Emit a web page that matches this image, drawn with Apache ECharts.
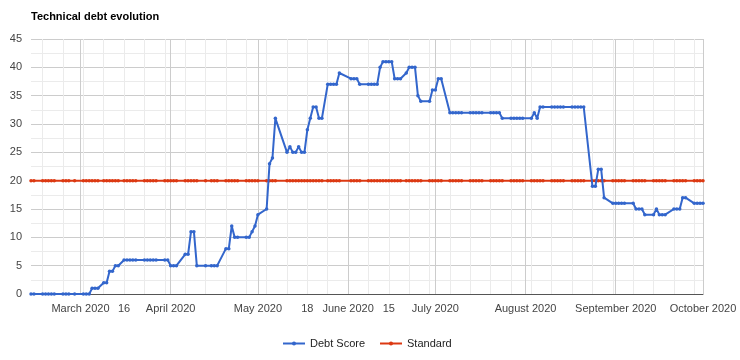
<!DOCTYPE html>
<html>
<head>
<meta charset="utf-8">
<script src="https://cdn.jsdelivr.net/npm/echarts@6/dist/echarts.min.js"></script>
<style>
html,body{margin:0;padding:0;background:#fff;}
#chart{width:740px;height:360px;}
</style>
</head>
<body>
<div id="chart"></div>
<script>
const title = 'Technical debt evolution';
const seriesNames = ['Debt Score', 'Standard'];

const dates = [
'2020-02-13','2020-02-14','2020-02-17','2020-02-18','2020-02-19','2020-02-20','2020-02-21','2020-02-24','2020-02-25','2020-02-26','2020-02-28',
'2020-03-02','2020-03-03','2020-03-04','2020-03-05','2020-03-06','2020-03-07','2020-03-09','2020-03-10','2020-03-11','2020-03-12','2020-03-13','2020-03-14','2020-03-16','2020-03-17','2020-03-18','2020-03-19','2020-03-20','2020-03-23','2020-03-24','2020-03-25','2020-03-26','2020-03-27','2020-03-30','2020-03-31',
'2020-04-01','2020-04-02','2020-04-03','2020-04-06','2020-04-07','2020-04-08','2020-04-09','2020-04-10','2020-04-13','2020-04-15','2020-04-16','2020-04-17','2020-04-20','2020-04-21','2020-04-22','2020-04-23','2020-04-24','2020-04-27','2020-04-28','2020-04-29','2020-04-30',
'2020-05-01','2020-05-04','2020-05-05','2020-05-06','2020-05-07','2020-05-11','2020-05-12','2020-05-13','2020-05-14','2020-05-15','2020-05-16','2020-05-17','2020-05-18','2020-05-19','2020-05-20','2020-05-21','2020-05-22','2020-05-23','2020-05-25','2020-05-26','2020-05-27','2020-05-28','2020-05-29',
'2020-06-02','2020-06-03','2020-06-04','2020-06-05','2020-06-08','2020-06-09','2020-06-10','2020-06-11','2020-06-12','2020-06-13','2020-06-14','2020-06-15','2020-06-16','2020-06-17','2020-06-18','2020-06-19','2020-06-21','2020-06-22','2020-06-23','2020-06-24','2020-06-25','2020-06-26','2020-06-29','2020-06-30',
'2020-07-01','2020-07-02','2020-07-03','2020-07-06','2020-07-07','2020-07-08','2020-07-09','2020-07-10','2020-07-13','2020-07-14','2020-07-15','2020-07-16','2020-07-17','2020-07-20','2020-07-21','2020-07-22','2020-07-23','2020-07-24','2020-07-27','2020-07-28','2020-07-29','2020-07-30','2020-07-31',
'2020-08-03','2020-08-04','2020-08-05','2020-08-06','2020-08-07','2020-08-10','2020-08-11','2020-08-12','2020-08-13','2020-08-14','2020-08-17','2020-08-18','2020-08-19','2020-08-20','2020-08-21','2020-08-24','2020-08-25','2020-08-26','2020-08-27','2020-08-28','2020-08-31',
'2020-09-01','2020-09-02','2020-09-03','2020-09-04','2020-09-07','2020-09-08','2020-09-09','2020-09-10','2020-09-11','2020-09-14','2020-09-15','2020-09-16','2020-09-17','2020-09-18','2020-09-21','2020-09-22','2020-09-23','2020-09-24','2020-09-25','2020-09-28','2020-09-29','2020-09-30','2020-10-01'
];

const debtScore = [
0,0,0,0,0,0,0,0,0,0,0,
0,0,0,1,1,1,2,2,4,4,5,5,6,6,6,6,6,6,6,6,6,6,6,6,
5,5,5,7,7,11,11,5,5,5,5,5,8,8,12,10,10,10,10,11,12,
14,15,23,24,31,25,26,25,25,26,25,25,29,31,33,33,31,31,37,37,37,37,39,
38,38,38,37,37,37,37,37,40,41,41,41,41,38,38,38,39,40,40,40,35,34,34,36,
36,38,38,32,32,32,32,32,32,32,32,32,32,32,32,32,32,31,31,31,31,31,31,
31,32,31,33,33,33,33,33,33,33,33,33,33,33,33,19,19,22,22,17,16,
16,16,16,16,16,15,15,15,14,14,15,14,14,14,15,15,15,17,17,16,16,16,16
];

const standardScore = [
20,20,20,20,20,20,20,20,20,20,20,
20,20,20,20,20,20,20,20,20,20,20,20,20,20,20,20,20,20,20,20,20,20,20,20,
20,20,20,20,20,20,20,20,20,20,20,20,20,20,20,20,20,20,20,20,20,
20,20,20,20,20,20,20,20,20,20,20,20,20,20,20,20,20,20,20,20,20,20,20,
20,20,20,20,20,20,20,20,20,20,20,20,20,20,20,20,20,20,20,20,20,20,20,20,
20,20,20,20,20,20,20,20,20,20,20,20,20,20,20,20,20,20,20,20,20,20,20,
20,20,20,20,20,20,20,20,20,20,20,20,20,20,20,20,20,20,20,20,20,
20,20,20,20,20,20,20,20,20,20,20,20,20,20,20,20,20,20,20,20,20,20,20
];

const xMin = '2020-02-13';
const xMax = '2020-10-01';
const monthStarts = ['2020-03-01','2020-04-01','2020-05-01','2020-06-01','2020-07-01','2020-08-01','2020-09-01','2020-10-01'];
const xTickDates = ['2020-03-01','2020-03-16','2020-04-01','2020-05-01','2020-05-18','2020-06-01','2020-06-15','2020-07-01','2020-08-01','2020-09-01','2020-10-01'];
const xTickLabels = ['March 2020','16','April 2020','May 2020','18','June 2020','15','July 2020','August 2020','September 2020','October 2020'];

const toTs = s => { const p = s.split('-'); return Date.UTC(+p[0], +p[1]-1, +p[2]); };

// weekly (Monday) minor grid lines
const mondays = [];
for (let t = toTs('2020-02-17'); t <= toTs(xMax); t += 7 * 86400000) mondays.push(t);

const labelMap = {};
xTickDates.forEach((d, i) => { labelMap[toTs(d)] = xTickLabels[i]; });

const FONT = 'Arial, "Liberation Sans", sans-serif';
const chart = echarts.init(document.getElementById('chart'), null, {renderer: 'canvas'});
chart.setOption({
  animation: false,
  backgroundColor: '#fff',
  textStyle: {fontFamily: FONT},
  title: {
    text: title, left: 31, top: 11, padding: 0,
    textStyle: {fontFamily: FONT, fontSize: 11, fontWeight: 'bold', color: '#000'}
  },
  legend: {
    bottom: 6, left: 277,
    itemWidth: 22, itemHeight: 5, itemGap: 14,
    textStyle: {fontFamily: FONT, fontSize: 11, color: '#222'},
    data: seriesNames
  },
  grid: {left: 31, right: 37, top: 39, bottom: 66, containLabel: false},
  xAxis: [
    {
      type: 'value', position: 'top', min: toTs(xMin), max: toTs(xMax),
      axisLine: {show: false}, axisLabel: {show: false},
      axisTick: {show: false, customValues: mondays},
      splitLine: {show: true, lineStyle: {color: '#ebebeb', width: 1}}
    },
    {
      type: 'value', position: 'bottom', min: toTs(xMin), max: toTs(xMax),
      axisLine: {show: true, onZero: false, lineStyle: {color: '#555', width: 1}},
      axisTick: {show: false, customValues: monthStarts.map(toTs)},
      axisLabel: {
        customValues: xTickDates.map(toTs), margin: 9, interval: 0, hideOverlap: false,
        showMinLabel: true, showMaxLabel: true,
        fontFamily: FONT, fontSize: 11, color: '#444',
        formatter: v => labelMap[v] !== undefined ? labelMap[v] : ''
      },
      splitLine: {show: true, lineStyle: {color: '#cccccc', width: 1}}
    }
  ],
  yAxis: {
    type: 'value', min: 0, max: 45, interval: 5,
    axisLine: {show: false}, axisTick: {show: false},
    axisLabel: {margin: 9, fontFamily: FONT, fontSize: 11, color: '#444'},
    splitLine: {lineStyle: {color: '#cccccc'}},
    minorTick: {show: false, splitNumber: 2},
    minorSplitLine: {show: true, lineStyle: {color: '#ebebeb'}}
  },
  series: [
    {
      name: seriesNames[0], type: 'line', xAxisIndex: 1,
      data: dates.map((d, i) => [toTs(d), debtScore[i]]),
      symbol: 'circle', symbolSize: 3.5, showSymbol: true, showAllSymbol: true,
      lineStyle: {color: '#3366cc', width: 2}, itemStyle: {color: '#3366cc'},
      z: 3
    },
    {
      name: seriesNames[1], type: 'line', xAxisIndex: 1,
      data: dates.map((d, i) => [toTs(d), standardScore[i]]),
      symbol: 'circle', symbolSize: 3.5, showSymbol: true, showAllSymbol: true,
      lineStyle: {color: '#dc3912', width: 2}, itemStyle: {color: '#dc3912'},
      z: 2
    }
  ]
});
</script>
</body>
</html>
